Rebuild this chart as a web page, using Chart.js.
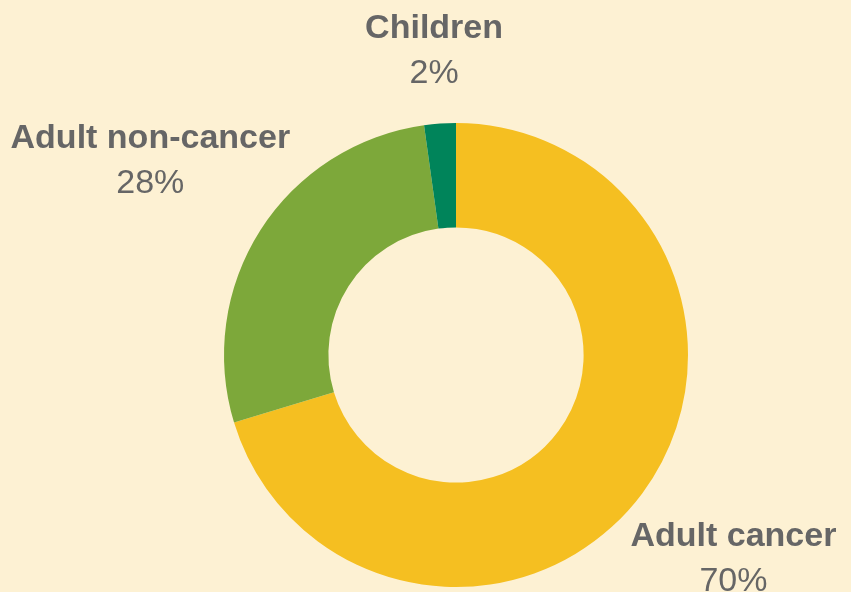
<!DOCTYPE html>
<html>
<head>
<meta charset="utf-8">
<script src="https://cdn.jsdelivr.net/npm/chart.js@4"></script>
<style>
    body { margin: 0; background: #FDF1D3; }
    #wrap { width: 851px; height: 592px; }
</style>
</head>
<body>
<div id="wrap"><canvas id="chart" width="851" height="592"></canvas></div>
<script>
// share of patients by group
const labels = ['Adult cancer', 'Adult non-cancer', 'Children'];
const shares = [70.3, 27.5, 2.2];
const pctLabels = ['70%', '28%', '2%'];

const colors = ['#F5BF21', '#7DA83A', '#00845A'];

// label placement: distance from the centre (x outer radius) and a small angle nudge in degrees
const labelDist = [1.51, 1.54, 1.273];
const labelNudge = [1.1, -1.4, -0.3];

const outsideLabels = {
    id: 'outsideLabels',
    afterDatasetsDraw(chart) {
        const ctx = chart.ctx;
        const meta = chart.getDatasetMeta(0);
        ctx.save();
        ctx.fillStyle = '#666666';
        ctx.textAlign = 'center';
        ctx.textBaseline = 'alphabetic';
        meta.data.forEach((arc, i) => {
            const p = arc.getProps(['x', 'y', 'startAngle', 'endAngle', 'outerRadius'], true);
            const mid = (p.startAngle + p.endAngle) / 2 + labelNudge[i] * Math.PI / 180;
            const r = p.outerRadius * labelDist[i];
            const x = p.x + Math.cos(mid) * r;
            const y = p.y + Math.sin(mid) * r;
            ctx.font = 'bold 34px "Liberation Sans", Arial, sans-serif';
            ctx.fillText(labels[i], x, y - 22.5);
            ctx.font = '34px "Liberation Sans", Arial, sans-serif';
            ctx.fillText(pctLabels[i], x, y + 22.5);
        });
        ctx.restore();
    }
};

new Chart(document.getElementById('chart'), {
    type: 'doughnut',
    data: {
        labels: labels,
        datasets: [{
            data: shares,
            backgroundColor: colors,
            borderWidth: 0
        }]
    },
    options: {
        responsive: false,
        animation: false,
        cutout: '55%',
        layout: { padding: { top: 123, bottom: 5, left: 224, right: 163 } },
        plugins: {
            legend: { display: false },
            tooltip: { enabled: false }
        }
    },
    plugins: [outsideLabels]
});
</script>
</body>
</html>
